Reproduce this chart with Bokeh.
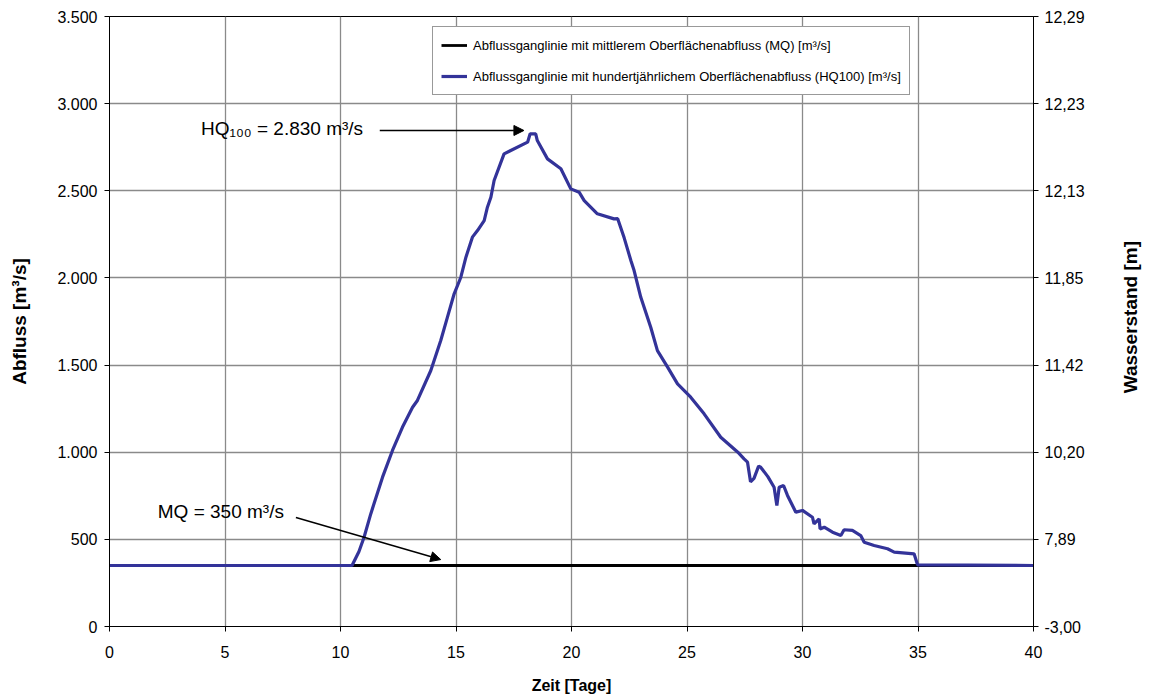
from bokeh.plotting import figure
from bokeh.layouts import row
from bokeh.models import (Range1d, LinearAxis, FixedTicker, Arrow, NormalHead, Label,
                          Legend, LegendItem)
from bokeh.embed import file_html
from bokeh.resources import INLINE
import math

# ---------------- data ----------------
mq_days = [0, 40]
mq_values = [350, 350]

hq_days = [0, 10.5, 10.8, 11.02, 11.31, 11.45, 11.82, 12.25, 12.68, 13.12, 13.33, 13.91,
           14.34, 14.63, 14.92, 15.21, 15.43, 15.71, 15.93, 16.22, 16.36, 16.51, 16.65,
           17.08, 18.10, 18.21, 18.45, 18.52, 18.96, 19.54, 19.97, 20.33, 20.55, 21.12,
           21.84, 22.0, 22.28, 22.57, 22.71, 23.0, 23.43, 23.72, 24.16, 24.59, 25.16,
           25.74, 26.46, 27.2, 27.47, 27.62, 27.75, 27.9, 28.1, 28.19, 28.5, 28.77,
           28.89, 28.99, 29.18, 29.35, 29.71, 30.0, 30.43, 30.5, 30.72, 30.76, 30.94,
           31.3, 31.66, 31.8, 32.16, 32.52, 32.67, 33.1, 33.68, 33.97, 34.83, 34.98, 40]
hq_values = [350, 350, 430, 512, 646, 704, 857, 1010, 1143, 1258, 1297, 1469,
             1641, 1775, 1909, 2004, 2119, 2234, 2272, 2329, 2406, 2463, 2559,
             2712, 2779, 2827, 2827, 2788, 2683, 2626, 2511, 2492, 2444, 2368,
             2339, 2340, 2230, 2100, 2042, 1889, 1717, 1583, 1488, 1392, 1316,
             1220, 1086, 1000, 962, 943, 830, 850, 920, 914, 860, 799,
             694, 799, 809, 752, 656, 666, 627, 589, 618, 560, 570,
             541, 522, 555, 551, 522, 484, 465, 446, 427, 417, 354, 350]

x_ticks = [0, 5, 10, 15, 20, 25, 30, 35, 40]
y_ticks = [0, 500, 1000, 1500, 2000, 2500, 3000, 3500]
y_tick_labels = ["0", "500", "1.000", "1.500", "2.000", "2.500", "3.000", "3.500"]
stage_labels = ["-3,00", "7,89", "10,20", "11,42", "11,85", "12,13", "12,23", "12,29"]

FONT = "Liberation Sans"

p = figure(width=1109, height=700, output_backend="svg", toolbar_location=None,
           x_range=Range1d(0, 40), y_range=Range1d(0, 3500),
           min_border_left=109, min_border_right=76, min_border_top=16, min_border_bottom=74)
p.background_fill_color = "white"
p.border_fill_color = "white"
p.outline_line_color = "black"
p.outline_line_width = 1

# axes
xa = p.xaxis[0]
xa.ticker = FixedTicker(ticks=x_ticks)
xa.axis_label = "Zeit [Tage]"
ya = p.yaxis[0]
ya.ticker = FixedTicker(ticks=y_ticks)
ya.major_label_overrides = {t: l for t, l in zip(y_ticks, y_tick_labels)}
ya.axis_label = "Abfluss [m³/s]"

ra = LinearAxis(ticker=FixedTicker(ticks=y_ticks),
                major_label_overrides={t: l for t, l in zip(y_ticks, stage_labels)})
p.add_layout(ra, "right")

for ax in [xa, ya, ra]:
    ax.axis_line_color = "black"
    ax.axis_line_width = 1
    ax.major_tick_line_color = "black"
    ax.major_tick_in = 0
    ax.major_tick_out = 5
    ax.minor_tick_line_color = None
    ax.major_label_text_font = FONT
    ax.major_label_text_font_size = "16px"
    ax.major_label_text_color = "black"
    ax.axis_label_text_font = FONT
    ax.axis_label_text_font_size = "19px"
    ax.axis_label_text_font_style = "bold"
    ax.axis_label_text_color = "black"
xa.axis_label_text_font_size = "16px"
xa.major_label_standoff = 14
xa.axis_label_standoff = 16
ya.major_label_standoff = 7
ya.axis_label_standoff = 24
ra.major_label_standoff = 6

p.xgrid.ticker = FixedTicker(ticks=x_ticks)
p.ygrid.ticker = FixedTicker(ticks=y_ticks)
for g in [p.xgrid[0], p.ygrid[0]]:
    g.grid_line_color = "#8a8a8a"
    g.grid_line_width = 1.3

# lines
r_mq = p.line(mq_days, mq_values, line_color="black", line_width=2.8)
r_hq = p.line(hq_days, hq_values, line_color="#333399", line_width=3.2)

legend = Legend(items=[
    LegendItem(label="Abflussganglinie mit mittlerem Oberflächenabfluss (MQ) [m³/s]", renderers=[r_mq]),
    LegendItem(label="Abflussganglinie mit hundertjährlichem Oberflächenabfluss (HQ100) [m³/s]", renderers=[r_hq]),
], location=(323, 531))
legend.label_text_font = FONT
legend.label_text_font_size = "13px"
legend.label_text_color = "black"
legend.glyph_width = 26
legend.glyph_height = 20
legend.label_height = 20
legend.label_standoff = 6
legend.spacing = 11
legend.padding = 8
legend.margin = 0
legend.border_line_color = "#333333"
legend.border_line_width = 1
legend.background_fill_color = "white"
legend.background_fill_alpha = 1
p.add_layout(legend, "center")

# annotations
p.add_layout(Label(x=3.96, y=2857, text="HQ₁₀₀ = 2.830 m³/s", text_font=FONT,
                   text_font_size="19px", text_baseline="middle", text_color="black"))
p.add_layout(Arrow(x_start=11.7, y_start=2846, x_end=17.94, y_end=2846,
                   line_color="black", line_width=1.5,
                   end=NormalHead(size=10, fill_color="black", line_color="black")))
p.add_layout(Label(x=2.09, y=660, text="MQ = 350 m³/s", text_font=FONT,
                   text_font_size="19px", text_baseline="middle", text_color="black"))
p.add_layout(Arrow(x_start=8.07, y_start=625, x_end=14.34, y_end=384,
                   line_color="black", line_width=1.5,
                   end=NormalHead(size=10, fill_color="black", line_color="black")))

# right-hand title strip (secondary axis title, reading bottom to top)
side = figure(width=40, height=700, output_backend="svg", toolbar_location=None,
              x_range=Range1d(0, 40), y_range=Range1d(0, 700),
              min_border=0, x_axis_type=None, y_axis_type=None)
side.outline_line_color = None
side.background_fill_color = "white"
side.border_fill_color = "white"
side.xgrid.visible = False
side.ygrid.visible = False
side.add_layout(Label(x=21, y=355, text="Wasserstand [m]", angle=math.pi / 2,
                      text_align="center", text_baseline="middle",
                      text_font=FONT, text_font_size="19px", text_font_style="bold",
                      text_color="black"))

layout = row(p, side)
open("out.html", "w").write(file_html(layout, INLINE))
